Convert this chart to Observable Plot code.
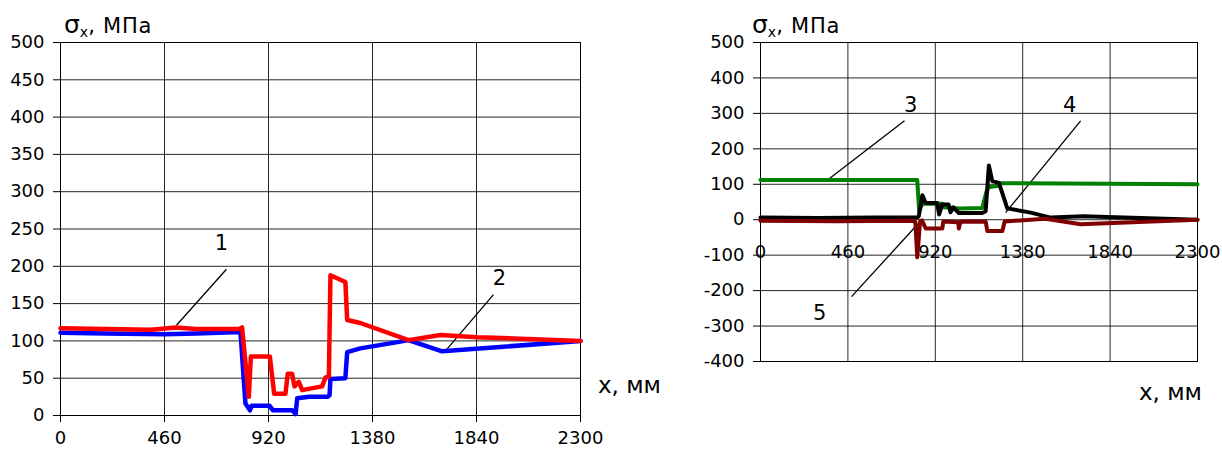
<!DOCTYPE html>
<html><head><meta charset="utf-8">
<script src="https://cdn.jsdelivr.net/npm/d3@7"></script>
<script src="https://cdn.jsdelivr.net/npm/@observablehq/plot@0.6"></script>
<style>
body{margin:0;background:#fff;font-family:"DejaVu Sans",sans-serif;}
#wrap{display:flex;width:1222px;height:455px;overflow:hidden;}
</style></head><body><div id="wrap"></div>
<script>
// ---- data ----
const xTicks = [0, 460, 920, 1380, 1840, 2300];
const leftYTicks = [0, 50, 100, 150, 200, 250, 300, 350, 400, 450, 500];
const rightYTicks = [-400, -300, -200, -100, 0, 100, 200, 300, 400, 500];

// left chart, curve 1 (red)
const c1x = [0, 200, 400, 510, 600, 790, 803, 833, 842, 926, 945, 995, 1005, 1024, 1035, 1054, 1069, 1157, 1172, 1187, 1194, 1260, 1268, 1326, 1540, 1681, 1843, 2300];
const c1y = [117, 116, 115, 118, 116, 116, 118, 25, 79, 79, 29, 29, 56, 56, 39, 45, 34, 39, 51, 52, 188, 179, 128, 124, 101, 108, 105, 100];
// left chart, curve 2 (blue)
const c2x = [0, 200, 460, 600, 796, 818, 838, 845, 925, 940, 1025, 1040, 1047, 1100, 1180, 1190, 1194, 1260, 1268, 1326, 1504, 1539, 1688, 2300];
const c2y = [111, 110, 109, 110, 112, 16, 7, 13, 13, 7, 7, 2, 23, 25, 25, 27, 49, 50, 85, 90, 99, 101, 86, 100];

// right chart, curve 3 (green)
const c3x = [0, 825, 835, 852, 957, 965, 1044, 1167, 1190, 1202, 1247, 1262, 2300];
const c3y = [112, 112, 25, 45, 45, 35, 32, 33, 80, 92, 95, 103, 100];
// right chart, curve 4 (black)
const c4x = [0, 300, 600, 825, 833, 852, 870, 930, 940, 957, 990, 1000, 1015, 1044, 1167, 1185, 1202, 1220, 1255, 1299, 1422, 1527, 1700, 2000, 2300];
const c4y = [6, 5, 6, 6, 10, 69, 47, 47, 15, 43, 43, 21, 35, 19, 19, 24, 153, 109, 104, 32, 20, 6, 10, 5, 0];
// right chart, curve 5 (dark red)
const c5x = [0, 400, 800, 815, 825, 840, 850, 870, 957, 962, 1040, 1044, 1052, 1185, 1194, 1273, 1285, 1500, 1685, 2300];
const c5y = [-3, -4, -3, -6, -106, -5, -2, -25, -25, -5, -7, -25, -6, -5, -32, -32, -5, 3, -13, 0];

// annotation labels and leaders (data units)
const leftLabels = [{t: "1", x: 712, y: 231}, {t: "2", x: 1942, y: 184}];
const leftLeaders = [{x1: 734, y1: 196, x2: 513, y2: 121}, {x1: 1915, y1: 162, x2: 1698, y2: 85}];
const rightLabels = [{t: "3", x: 790, y: 323}, {t: "4", x: 1627, y: 323}, {t: "5", x: 311, y: -265}];
const rightLeaders = [{x1: 758, y1: 279, x2: 358, y2: 114}, {x1: 1685, y1: 279, x2: 1290, y2: 20}, {x1: 479, y1: -217, x2: 832, y2: -10}];

const zip = (xs, ys) => xs.map((x, i) => ({x, y: ys[i]}));
const font = "DejaVu Sans, sans-serif";
const fmt = d => String(d);

const left = Plot.plot({
  width: 700, height: 455,
  marginLeft: 60, marginRight: 120, marginTop: 42, marginBottom: 40,
  style: {fontFamily: font, fontSize: "18px", color: "#000", background: "#fff", overflow: "visible"},
  x: {domain: [0, 2300], label: null},
  y: {domain: [0, 500], label: null},
  marks: [
    Plot.gridX(xTicks, {stroke: "#000", strokeOpacity: 0.85, strokeWidth: 1}),
    Plot.gridY(leftYTicks, {stroke: "#000", strokeOpacity: 0.85, strokeWidth: 1}),
    Plot.frame({stroke: "#000", strokeWidth: 1}),
    Plot.axisX(xTicks, {tickSize: 7, tickPadding: 9, tickFormat: fmt, fontSize: 18, label: null}),
    Plot.axisY(leftYTicks, {tickSize: 7, tickPadding: 9, tickFormat: fmt, fontSize: 18, label: null}),
    Plot.link(leftLeaders, {x1: "x1", y1: "y1", x2: "x2", y2: "y2", stroke: "#000", strokeWidth: 1.3}),
    Plot.line(zip(c2x, c2y), {x: "x", y: "y", stroke: "#0000ff", strokeWidth: 4.5}),
    Plot.line(zip(c1x, c1y), {x: "x", y: "y", stroke: "#ff0000", strokeWidth: 4.5}),
    Plot.text(leftLabels, {x: "x", y: "y", text: "t", fontSize: 21, fill: "#000"})
  ]
});

const right = Plot.plot({
  width: 522, height: 455,
  marginLeft: 60, marginRight: 25, marginTop: 42, marginBottom: 94,
  style: {fontFamily: font, fontSize: "18px", color: "#000", background: "#fff", overflow: "visible"},
  x: {domain: [0, 2300], label: null, axis: null},
  y: {domain: [-400, 500], label: null},
  marks: [
    Plot.gridX(xTicks, {stroke: "#000", strokeOpacity: 0.85, strokeWidth: 1}),
    Plot.gridY(rightYTicks, {stroke: "#000", strokeOpacity: 0.85, strokeWidth: 1}),
    Plot.frame({stroke: "#000", strokeWidth: 1}),
    Plot.axisY(rightYTicks, {tickSize: 7, tickPadding: 9, tickFormat: fmt, fontSize: 18, label: null}),
    Plot.text(xTicks, {x: d => d, y: () => 0, text: fmt, dy: 33, fontSize: 18, fill: "#000"}),
    Plot.link(rightLeaders, {x1: "x1", y1: "y1", x2: "x2", y2: "y2", stroke: "#000", strokeWidth: 1.3}),
    Plot.line(zip(c3x, c3y), {x: "x", y: "y", stroke: "#008000", strokeWidth: 4}),
    Plot.line(zip(c4x, c4y), {x: "x", y: "y", stroke: "#000000", strokeWidth: 4}),
    Plot.line(zip(c5x, c5y), {x: "x", y: "y", stroke: "#800000", strokeWidth: 4}),
    Plot.text(rightLabels, {x: "x", y: "y", text: "t", fontSize: 21, fill: "#000"})
  ]
});

function addTitle(svg, x, y) {
  const t = d3.select(svg).append("text").attr("x", x).attr("y", y)
    .attr("font-size", 21).attr("fill", "#000").attr("font-family", font)
    .attr("text-anchor", "start");
  t.append("tspan").attr("font-size", 25).text("σ");
  t.append("tspan").attr("font-size", 14).attr("dy", 4).text("x");
  t.append("tspan").attr("dy", -4).attr("letter-spacing", 0.8).text(", МПа");
}
function addXLabel(svg, x, y) {
  d3.select(svg).append("text").attr("x", x).attr("y", y)
    .attr("font-size", 23).attr("fill", "#000").attr("font-family", font)
    .attr("text-anchor", "start").text("x, мм");
}
addTitle(left, 64, 33);
addXLabel(left, 598, 393);
addTitle(right, 52, 33);
addXLabel(right, 439, 400);

const wrap = document.getElementById("wrap");
wrap.appendChild(left);
wrap.appendChild(right);
</script></body></html>
